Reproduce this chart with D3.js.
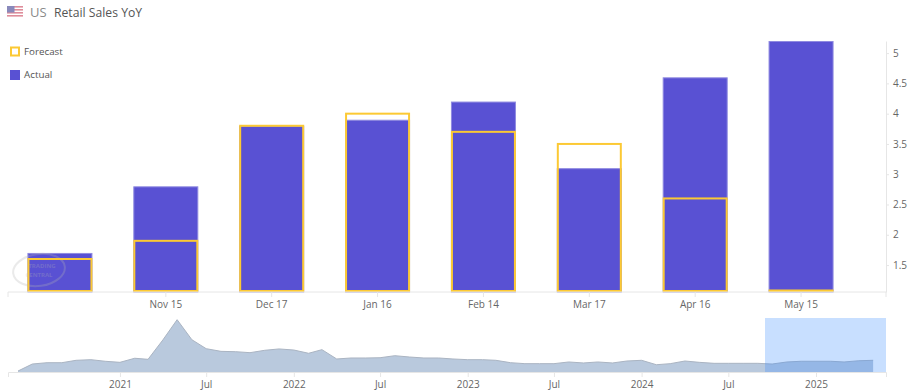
<!DOCTYPE html>
<html>
<head>
<meta charset="utf-8">
<script src="https://cdn.jsdelivr.net/npm/d3@7"></script>
<style>
html, body { margin: 0; padding: 0; background: #fff; }
svg { display: block; font-family: "Open Sans", sans-serif; }
.axis path, .axis line { stroke: #e6e6e6; }
.axis text { fill: #666; font-family: "Open Sans", sans-serif; font-size: 10px; }
</style>
</head>
<body>
<svg id="chart" width="914" height="392"></svg>
<script>
// first release has no date label in the picture
const categories = ["", "Nov 15", "Dec 17", "Jan 16", "Feb 14", "Mar 17", "Apr 16", "May 15"];
const actual = [1.7, 2.8, 3.8, 3.9, 4.2, 3.1, 4.6, 5.2];
const forecast = [1.6, 1.9, 3.8, 4.0, 3.7, 3.5, 2.6, 1.08];
const yTicks = [1.5, 2, 2.5, 3, 3.5, 4, 4.5, 5];

// overview series, monthly from Jun 2020
const overviewStart = new Date(Date.UTC(2020, 5, 1));
const overview = [
    -6.9, 1.0, 2.5, 2.5, 5.2, 5.9, 4.1, 2.9, 7.5, 6.3,
    28.1, 51, 28.4, 18.3, 15.3, 14.9, 13.8, 16.5, 18, 16.8,
    13.1, 17.2, 6.7, 7.8, 7.8, 8.1, 10.4, 8.9, 7.8, 7.8,
    6.7, 5.9, 5.9, 5.2, 2.5, 1.4, 1.4, 1.4, 3.3, 2.2,
    3.3, 2.2, 4.4, 5.2, 0.2, 1.4, 4.4, 2.9, 1.8, 1.8,
    1.8, 1.8, 1.0, 3.3, 4.1, 4.1, 4.1, 3.3, 4.7, 5.2
];
const overviewTicks = [
    [2021, 0, "2021"], [2021, 6, "Jul"], [2022, 0, "2022"], [2022, 6, "Jul"], [2023, 0, "2023"],
    [2023, 6, "Jul"], [2024, 0, "2024"], [2024, 6, "Jul"], [2025, 0, "2025"]
];

const barColor = "#5951d3";
const forecastColor = "#fcc934";

const svg = d3.select("#chart");

// header
const flag = svg.append("g").attr("transform", "translate(7,6)").attr("opacity", 0.6);
flag.append("rect").attr("width", 16).attr("height", 12).attr("fill", "#fff");
for (let i = 0; i < 4; i++) {
    flag.append("rect").attr("y", i * 3).attr("width", 16).attr("height", 1.6).attr("fill", "#c9435a");
}
flag.append("rect").attr("width", 7.5).attr("height", 6.5).attr("fill", "#3c3b8e");

svg.append("text").attr("x", 30).attr("y", 17)
    .attr("font-size", 13).attr("fill", "#8a8a8a").text("US");
svg.append("text").attr("x", 54).attr("y", 17)
    .attr("font-size", 12.2).attr("fill", "#555").text("Retail Sales YoY");

// main chart
const x = d3.scaleBand().domain(d3.range(categories.length)).range([7, 854])
    .paddingInner(0.386).paddingOuter(0.193);
const y = d3.scaleLinear().domain([1.055, 5.2]).range([292, 41]);

svg.append("g").selectAll("rect").data(actual).enter().append("rect")
    .attr("x", (d, i) => x(i) + 0.5)
    .attr("y", d => y(d) + 0.5)
    .attr("width", x.bandwidth() - 1)
    .attr("height", d => y.range()[0] - y(d) - 0.5)
    .attr("fill", barColor)
    .attr("stroke", "#8f8ae0")
    .attr("stroke-width", 1);

// watermark sits over the first bar
const mark = svg.append("g").attr("opacity", 0.28);
mark.append("ellipse").attr("cx", 39).attr("cy", 270).attr("rx", 26).attr("ry", 16)
    .attr("transform", "rotate(-8 39 270)")
    .attr("fill", "none").attr("stroke", "#b5b5b5").attr("stroke-width", 2);
mark.append("text").attr("x", 42).attr("y", 268).attr("text-anchor", "middle")
    .attr("font-size", 6).attr("font-weight", 700).attr("fill", "#b5b5b5").text("TRADING");
mark.append("text").attr("x", 39).attr("y", 277).attr("text-anchor", "middle")
    .attr("font-size", 6).attr("font-weight", 700).attr("fill", "#b5b5b5").text("CENTRAL");

svg.append("g").selectAll("rect").data(forecast).enter().append("rect")
    .attr("x", (d, i) => x(i) + 1)
    .attr("y", d => y(d))
    .attr("width", x.bandwidth() - 2)
    .attr("height", d => y.range()[0] - y(d) - 1)
    .attr("fill", "none")
    .attr("stroke", forecastColor)
    .attr("stroke-width", 2);

svg.append("line").attr("x1", 8).attr("x2", 886).attr("y1", 292).attr("y2", 292).attr("stroke", "#e6e6e6");
[8, 886].forEach(px => {
    svg.append("line").attr("x1", px).attr("x2", px).attr("y1", 292).attr("y2", 297).attr("stroke", "#e6e6e6");
});

const xAxis = d3.axisBottom(x)
    .tickFormat(i => categories[i])
    .tickSizeOuter(0).tickSize(5).tickPadding(4);
svg.append("g").attr("class", "axis").attr("transform", "translate(0,292)").call(xAxis)
    .call(g => g.select(".domain").remove())
    .call(g => g.selectAll(".tick").filter(i => categories[i] === "").remove());

const yAxis = d3.axisRight(y).tickValues(yTicks).tickFormat(d3.format("~g"))
    .tickSize(3).tickPadding(4).tickSizeOuter(0);
svg.append("g").attr("class", "axis").attr("transform", "translate(886,0)").call(yAxis);

// legend
svg.append("rect").attr("x", 11).attr("y", 47.5).attr("width", 8).attr("height", 8)
    .attr("fill", "#fff").attr("stroke", forecastColor).attr("stroke-width", 2);
svg.append("text").attr("x", 24).attr("y", 55).attr("font-size", 9.8).attr("fill", "#555").text("Forecast");
svg.append("rect").attr("x", 10).attr("y", 70).attr("width", 10).attr("height", 10).attr("fill", barColor);
svg.append("text").attr("x", 24).attr("y", 78).attr("font-size", 9.8).attr("fill", "#555").text("Actual");

// overview strip
const nx = d3.scaleUtc()
    .domain([new Date(Date.UTC(2020, 4, 11)), new Date(Date.UTC(2025, 4, 28))])
    .range([8, 886]);
const ny = d3.scaleLinear().domain([-8, 51]).range([372, 319.7]);
const overviewDates = overview.map((d, i) => d3.utcMonth.offset(overviewStart, i));

const area = d3.area()
    .x((d, i) => nx(overviewDates[i]))
    .y0(372)
    .y1(d => ny(d));
const topLine = d3.line()
    .x((d, i) => nx(overviewDates[i]))
    .y(d => ny(d));

svg.append("path").datum(overview).attr("d", area).attr("fill", "#b9c9dd");
svg.append("path").datum(overview).attr("d", topLine)
    .attr("fill", "none").attr("stroke", "#aab4c2").attr("stroke-width", 1);

const tickDates = overviewTicks.map(t => new Date(Date.UTC(t[0], t[1], 1)));
const navAxis = d3.axisBottom(nx).tickValues(tickDates)
    .tickFormat((d, i) => overviewTicks[i][2])
    .tickSize(5).tickSizeOuter(5).tickPadding(4);
svg.append("g").attr("class", "axis").attr("transform", "translate(0,372)").call(navAxis);

// selected window
svg.append("rect").attr("x", 765).attr("y", 318).attr("width", 121).attr("height", 54)
    .attr("fill", "#3388ff").attr("fill-opacity", 0.27);
</script>
</body>
</html>
